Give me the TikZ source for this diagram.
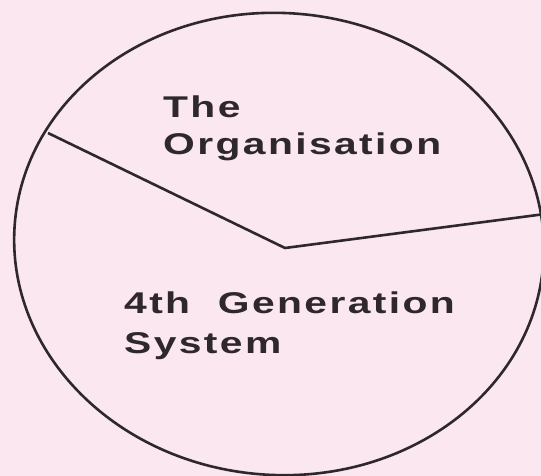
\documentclass[tikz,border=0pt]{standalone}
\usepackage{fontspec}
\setmainfont{Liberation Sans}
\newfontfamily\labelfont{Liberation Sans Bold}[FakeStretch=1.36,LetterSpace=8]
\definecolor{bgpink}{HTML}{FBE7EF}
\definecolor{ink}{HTML}{2E282C}
\begin{document}
\begin{tikzpicture}[x=1pt,y=-1pt,
  outline/.style={draw=ink,line width=2.6pt,line join=round},
  label/.style={anchor=base west,inner sep=0pt,text=ink,
    font=\labelfont\fontsize{30}{36}\selectfont}]
\fill[bgpink] (0,0) rectangle (541,476);
\useasboundingbox (0,0) rectangle (541,476);
\draw[outline,rotate around={-4:(279,244)}] (279,244) ellipse [x radius=265, y radius=231];
\coordinate (left) at (48,133);
\coordinate (mid) at (285,248);
\coordinate (right) at (545,214);
\draw[outline] (left) -- (mid) -- (right);
\node[label] (orgA) at (163,118) {The};
\node[label] (orgB) at (163,155) {Organisation};
\node[label] (genA) at (124,313) {4th\hspace{14pt} Generation};
\node[label] (genB) at (124,353) {System};
\end{tikzpicture}
\end{document}
